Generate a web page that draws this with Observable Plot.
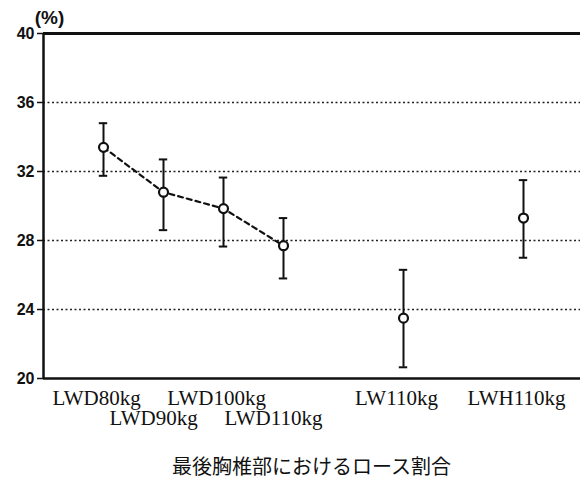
<!DOCTYPE html>
<html><head><meta charset="utf-8">
<script src="https://cdn.jsdelivr.net/npm/d3@7"></script>
<script src="https://cdn.jsdelivr.net/npm/@observablehq/plot@0.6"></script>
<style>
body{margin:0;background:#fff;width:581px;}
#cap{font-family:"Noto Sans CJK JP";font-size:20px;line-height:24px;text-align:center;margin-top:14px;padding-left:42px;color:#111;}
</style>
</head><body>
<div id="chart"></div>
<div id="cap">最後胸椎部におけるロース割合</div>
<script>
const groups = ["LWD80kg","LWD90kg","LWD100kg","LWD110kg","LW110kg","LWH110kg"];
const slots  = [0, 1, 2, 3, 5, 7];
const means  = [33.4, 30.8, 29.85, 27.7, 23.5, 29.3];
const upper  = [34.8, 32.7, 31.65, 29.3, 26.3, 31.5];
const lower  = [31.75, 28.6, 27.65, 25.8, 20.65, 27.0];
const labelRow = [0, 1, 0, 1, 0, 0];
const linked = ["LWD80kg","LWD90kg","LWD100kg","LWD110kg"];
const yTicks = [20, 24, 28, 32, 36, 40];
const gridTicks = [24, 28, 32, 36];
const unitLabel = "(%)";

const data = groups.map((g,i)=>({g, slot:slots[i], mean:means[i], hi:upper[i], lo:lower[i], row:labelRow[i]}));
const lineData = data.filter(d=>linked.includes(d.g));
const serif = "Liberation Serif, DejaVu Serif, serif";

const chart = Plot.plot({
  width: 581, height: 440,
  marginTop: 33, marginBottom: 62, marginLeft: 43, marginRight: 1,
  style: {fontFamily: "Liberation Sans, sans-serif", color: "#111", background: "#fff"},
  x: {domain: [-1, 7.95], axis: null},
  y: {domain: [20, 40]},
  marks: [
    Plot.ruleY(gridTicks, {stroke: "#222", strokeWidth: 1.6, strokeDasharray: "2,2.5"}),
    Plot.axisY({ticks: yTicks, tickSize: 6, tickPadding: 3, fontSize: 16, fontWeight: "bold", stroke: "#111", strokeWidth: 1.5, label: null}),
    Plot.ruleY([40], {stroke: "#111", strokeWidth: 3}),
    Plot.ruleY([20], {stroke: "#111", strokeWidth: 2.5}),
    Plot.ruleX([-1], {stroke: "#111", strokeWidth: 2.5}),
    Plot.line(lineData, {x: "slot", y: "mean", stroke: "#111", strokeWidth: 2.2, strokeDasharray: "5,4"}),
    Plot.ruleX(data, {x: "slot", y1: "lo", y2: "hi", stroke: "#111", strokeWidth: 2,
      strokeDasharray: d => d.g === "LWD100kg" ? "4,3" : null}),
    Plot.ruleY(data, {y: "hi", x1: d => d.slot - 0.07, x2: d => d.slot + 0.07, stroke: "#111", strokeWidth: 2}),
    Plot.ruleY(data, {y: "lo", x1: d => d.slot - 0.07, x2: d => d.slot + 0.07, stroke: "#111", strokeWidth: 2}),
    Plot.dot(data, {x: "slot", y: "mean", r: 4.5, stroke: "#111", strokeWidth: 2.2, fill: "#fff"}),
    Plot.text(data.filter(d=>d.row===0), {x: "slot", y: () => 20, text: "g", dy: 20, dx: -7, fontFamily: serif, fontSize: 21, fill: "#111", lineAnchor: "middle"}),
    Plot.text(data.filter(d=>d.row===1), {x: "slot", y: () => 20, text: "g", dy: 40, dx: -10, fontFamily: serif, fontSize: 21, fill: "#111", lineAnchor: "middle"}),
    Plot.text([unitLabel], {x: () => -1, y: () => 40, text: d => d, dx: 6, dy: -16, fontSize: 19, fontWeight: "bold", fill: "#111"})
  ]
});
document.getElementById("chart").appendChild(chart);
</script>
</body></html>
